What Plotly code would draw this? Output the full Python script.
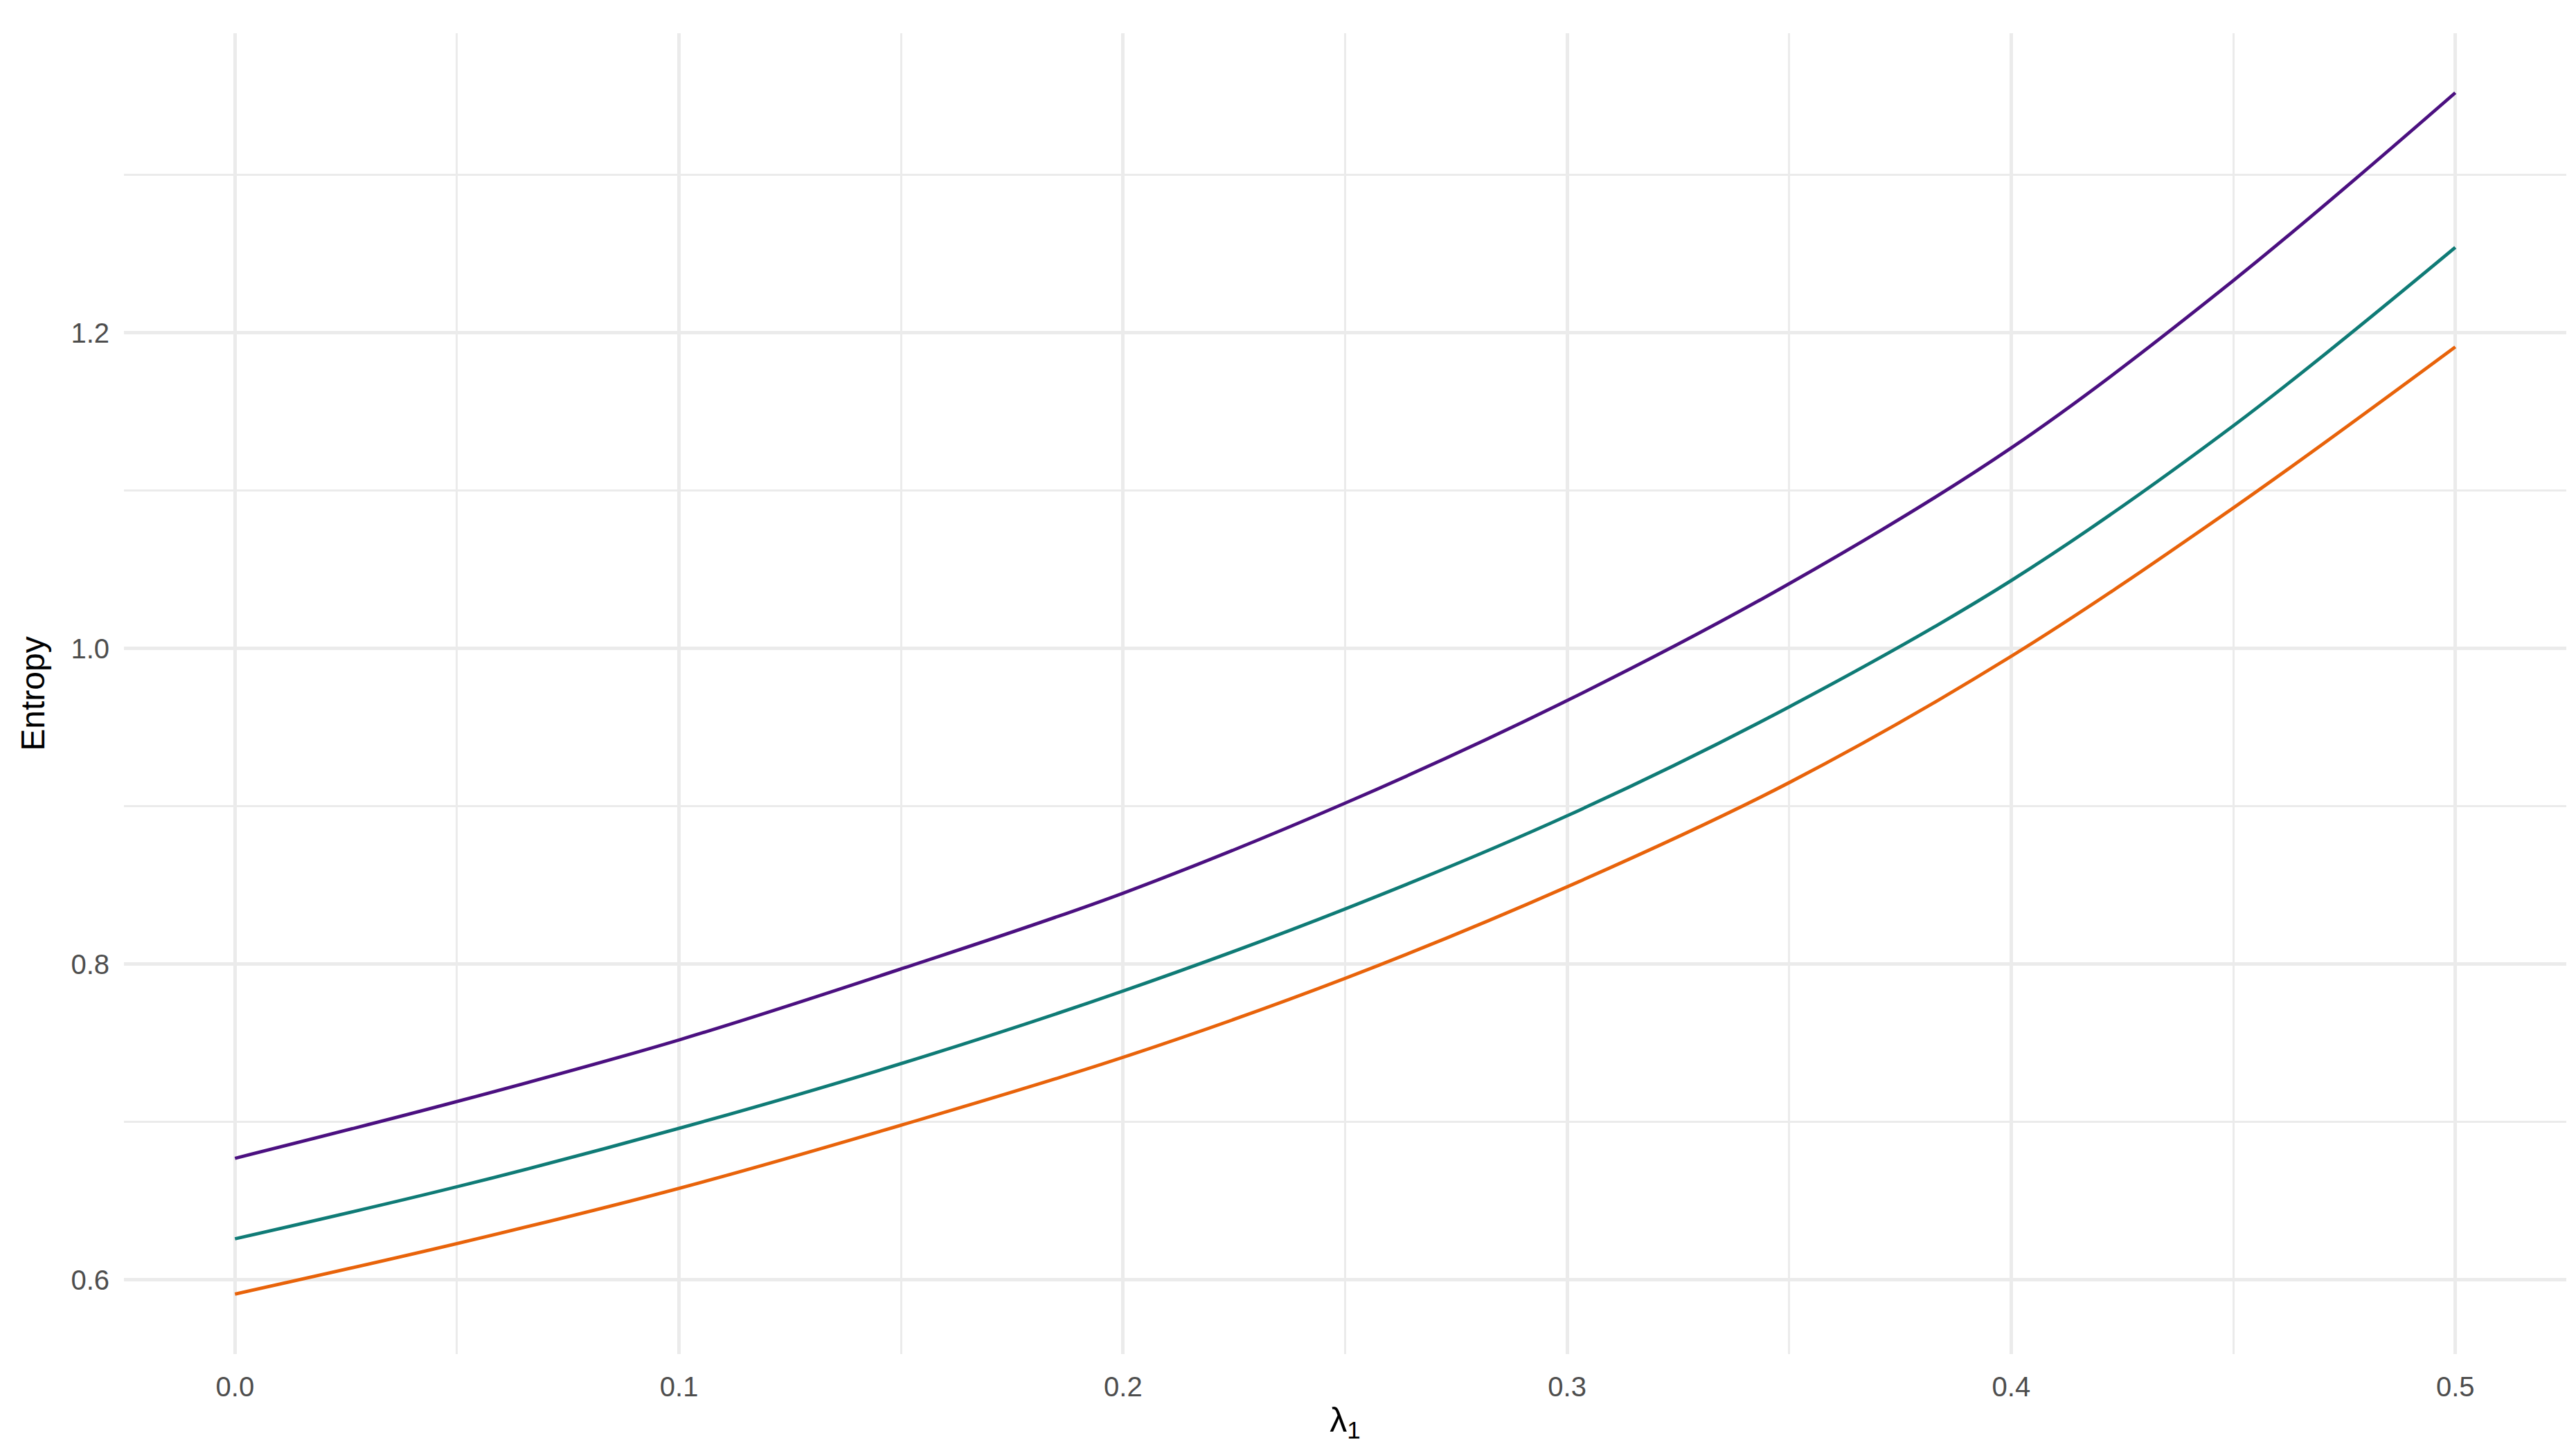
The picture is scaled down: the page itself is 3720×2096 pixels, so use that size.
import plotly.graph_objects as go

# values, x steps of 0.05
lambda1 = [0.0, 0.05, 0.10, 0.15, 0.20, 0.25, 0.30, 0.35, 0.40, 0.45, 0.50]

entropy_purple = [0.677, 0.713, 0.752, 0.797, 0.845, 0.902, 0.967, 1.041, 1.127, 1.233, 1.352]
entropy_teal = [0.626, 0.659, 0.696, 0.737, 0.783, 0.835, 0.894, 0.963, 1.043, 1.141, 1.254]
entropy_orange = [0.591, 0.623, 0.658, 0.698, 0.741, 0.791, 0.849, 0.915, 0.995, 1.089, 1.191]

x_ticks = [0.0, 0.1, 0.2, 0.3, 0.4, 0.5]
x_labels = ["0.0", "0.1", "0.2", "0.3", "0.4", "0.5"]
y_ticks = [0.6, 0.8, 1.0, 1.2]
y_labels = ["0.6", "0.8", "1.0", "1.2"]

series = [
    (entropy_purple, "#4B1080"),
    (entropy_teal, "#0F7B76"),
    (entropy_orange, "#E8630A"),
]

fig = go.Figure()
for vals, col in series:
    fig.add_trace(go.Scatter(
        x=lambda1,
        y=vals,
        mode="lines",
        line=dict(color=col, width=4.8, shape="spline", smoothing=1.0),
        showlegend=False
    ))

grid_major = "#EBEBEB"

fig.update_layout(
    width=3720,
    height=2096,
    margin=dict(l=171, r=22, t=40, b=148),
    paper_bgcolor="white",
    plot_bgcolor="white",
    font=dict(family="Liberation Sans, Arial, sans-serif", color="black"),
    showlegend=False
)

fig.update_xaxes(
    range=[-0.025, 0.525],
    tickvals=x_ticks,
    ticktext=x_labels,
    ticks="",
    showline=False,
    zeroline=False,
    showgrid=True,
    gridcolor=grid_major,
    gridwidth=5,
    minor=dict(dtick=0.05, tick0=0, showgrid=True, gridcolor=grid_major, gridwidth=2.5),
    tickfont=dict(size=40, color="#4D4D4D"),
    ticklabelstandoff=20,
    title=dict(text="λ<sub>1</sub>", font=dict(size=50, color="black"), standoff=8)
)

fig.update_yaxes(
    range=[0.553, 1.3897],
    tickvals=y_ticks,
    ticktext=y_labels,
    ticks="",
    showline=False,
    zeroline=False,
    showgrid=True,
    gridcolor=grid_major,
    gridwidth=5,
    minor=dict(dtick=0.1, tick0=0.6, showgrid=True, gridcolor=grid_major, gridwidth=2.5),
    tickfont=dict(size=40, color="#4D4D4D"),
    ticklabelstandoff=20,
    title=dict(text="Entropy", font=dict(size=48, color="black"), standoff=22)
)

fig.write_html("out.html")
